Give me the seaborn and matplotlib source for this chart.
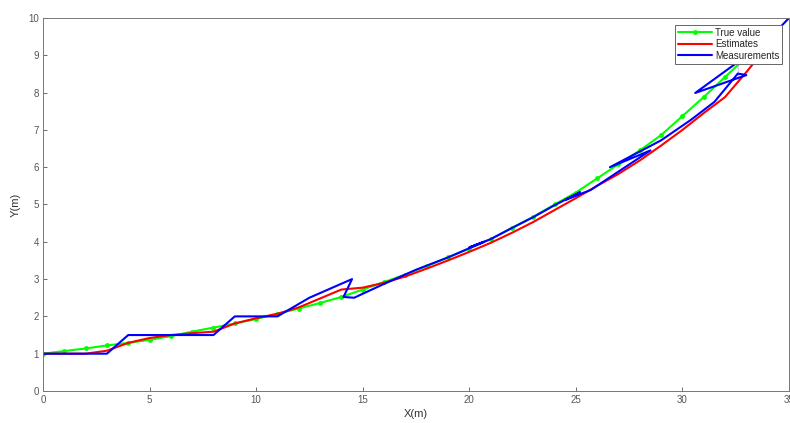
import matplotlib
matplotlib.use("Agg")
import matplotlib.pyplot as plt
import seaborn as sns
import pandas as pd

# ---- data ----
true_x = list(range(35))
true_y = [1.00, 1.07, 1.14, 1.22, 1.29, 1.37, 1.47, 1.59, 1.70, 1.81,
          1.93, 2.07, 2.21, 2.36, 2.52, 2.72, 2.92, 3.12, 3.35, 3.58,
          3.82, 4.07, 4.37, 4.67, 5.00, 5.32, 5.70, 6.08, 6.45, 6.86,
          7.37, 7.88, 8.42, 8.95, 9.50]

est_x = list(range(35))
est_y = [1.00, 1.00, 1.00, 1.08, 1.29, 1.42, 1.50, 1.55, 1.59, 1.81,
         1.95, 2.07, 2.24, 2.48, 2.72, 2.77, 2.90, 3.07, 3.28, 3.50,
         3.73, 3.97, 4.24, 4.53, 4.85, 5.17, 5.50, 5.82, 6.18, 6.58,
         7.00, 7.45, 7.88, 8.55, 9.25]

meas_x = [0.0, 3.0, 4.0, 8.0, 9.0, 11.0, 12.5, 14.5, 14.1, 14.6,
          16.0, 17.5, 19.0, 20.7, 20.0, 21.0, 22.0, 23.0, 24.0, 25.2,
          24.5, 25.7, 28.5, 26.6, 29.0, 30.4, 31.5, 32.6, 33.0, 30.6,
          32.6, 34.0, 35.0]
meas_y = [1.0, 1.0, 1.5, 1.5, 2.0, 2.0, 2.5, 3.0, 2.52, 2.5,
          2.87, 3.25, 3.58, 4.0, 3.85, 4.07, 4.37, 4.66, 4.98, 5.33,
          5.12, 5.39, 6.45, 6.0, 6.72, 7.27, 7.75, 8.28, 8.47, 7.99,
          8.74, 9.40, 10.0]

x_ticks = [0, 5, 10, 15, 20, 25, 30, 35]
y_ticks = list(range(11))

sns.set_style("ticks")
plt.rcParams['font.family'] = ['Liberation Sans', 'DejaVu Sans']

fig = plt.figure(figsize=(7.9, 4.23), dpi=100)
ax = fig.add_axes([0.0544, 0.0757, 0.9443, 0.8817])

df_true = pd.DataFrame({"x": true_x, "y": true_y})
df_est = pd.DataFrame({"x": est_x, "y": est_y})
df_meas = pd.DataFrame({"x": meas_x, "y": meas_y})

sns.lineplot(data=df_true, x="x", y="y", sort=False, color="#00ff00",
             marker="o", markersize=3.5, markeredgewidth=0, linewidth=1.5,
             label="True value", ax=ax)
sns.lineplot(data=df_est, x="x", y="y", sort=False, color="#ff0000",
             linewidth=1.5, label="Estimates", ax=ax)
sns.lineplot(data=df_meas, x="x", y="y", sort=False, color="#0000ff",
             linewidth=1.5, label="Measurements", ax=ax)

ax.set_xlim(0, 35)
ax.set_ylim(0, 10)
ax.set_xticks(x_ticks)
ax.set_yticks(y_ticks)
ax.tick_params(direction="in", length=3, width=0.6, labelsize=7,
               colors="#555555", pad=3)
for s in ax.spines.values():
    s.set_visible(True)
    s.set_color("#777777")
    s.set_linewidth(0.7)
ax.set_xlabel("X(m)", fontsize=8, color="#333333", labelpad=3)
ax.set_ylabel("Y(m)", fontsize=8, color="#333333", labelpad=5)

leg = ax.legend(loc="upper right", fontsize=7, frameon=True, fancybox=False,
                edgecolor="#666666", framealpha=1, borderaxespad=0.7,
                handlelength=3.5, handletextpad=0.3, borderpad=0.3,
                labelspacing=0.15)
leg.get_frame().set_linewidth(0.7)
leg.set_zorder(10)

fig.savefig("out.png", dpi=100)
